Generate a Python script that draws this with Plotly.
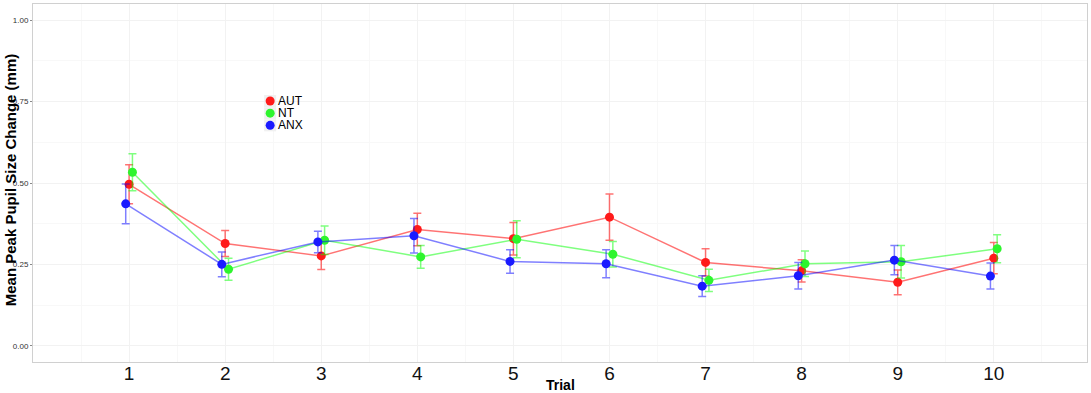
import plotly.graph_objects as go

trials = [1, 2, 3, 4, 5, 6, 7, 8, 9, 10]
groups = ["AUT", "NT", "ANX"]

aut_mean = [0.496, 0.314, 0.276, 0.357, 0.329, 0.395, 0.256, 0.230, 0.195, 0.269]
aut_se = [0.060, 0.040, 0.042, 0.050, 0.050, 0.071, 0.042, 0.034, 0.038, 0.048]
nt_mean = [0.533, 0.235, 0.324, 0.273, 0.327, 0.281, 0.201, 0.252, 0.258, 0.298]
nt_se = [0.057, 0.034, 0.044, 0.035, 0.057, 0.039, 0.034, 0.039, 0.050, 0.043]
anx_mean = [0.436, 0.250, 0.319, 0.338, 0.259, 0.252, 0.183, 0.215, 0.263, 0.214]
anx_se = [0.061, 0.038, 0.033, 0.053, 0.036, 0.043, 0.032, 0.041, 0.045, 0.040]

offsets = {"AUT": 0.0, "NT": 0.035, "ANX": -0.035}
means = {"AUT": aut_mean, "NT": nt_mean, "ANX": anx_mean}
ses = {"AUT": aut_se, "NT": nt_se, "ANX": anx_se}
line_col = {"AUT": "rgba(255,0,0,0.55)", "NT": "rgba(0,255,0,0.5)", "ANX": "rgba(0,0,255,0.5)"}
mark_col = {"AUT": "#FF1A1A", "NT": "#2EF52E", "ANX": "#1A1AFF"}

fig = go.Figure()
for g in groups:
    xs = [t + offsets[g] for t in trials]
    fig.add_trace(go.Scatter(
        x=xs, y=means[g], name=g, mode="lines+markers", showlegend=False,
        line=dict(color=line_col[g], width=1.5),
        marker=dict(color=mark_col[g], size=9),
        error_y=dict(type="data", array=ses[g], visible=True,
                     color=line_col[g], thickness=1.5, width=4),
    ))

# manual compact legend (ggplot-style keys)
leg_x = 0.225
leg_y = [0.729, 0.695, 0.661]
shapes = []
annotations = []
for g, yy in zip(groups, leg_y):
    shapes.append(dict(type="rect", xref="paper", yref="paper",
                       xsizemode="pixel", ysizemode="pixel",
                       xanchor=leg_x, yanchor=yy, x0=-6, x1=6, y0=-6, y1=6,
                       fillcolor="#F0F0F0", line=dict(width=0), layer="above"))
    shapes.append(dict(type="circle", xref="paper", yref="paper",
                       xsizemode="pixel", ysizemode="pixel",
                       xanchor=leg_x, yanchor=yy, x0=-4.5, x1=4.5, y0=-4.5, y1=4.5,
                       fillcolor=mark_col[g], line=dict(width=0), layer="above"))
    annotations.append(dict(text=g, xref="paper", yref="paper", x=leg_x, y=yy,
                            xshift=6, xanchor="left", yanchor="middle", showarrow=False,
                            font=dict(size=12, color="#000")))

annotations.append(dict(text="<b>Trial</b>", xref="paper", yref="paper", x=0.5, y=-0.064,
                        xanchor="center", yanchor="middle", showarrow=False,
                        font=dict(size=14, color="#000")))
annotations.append(dict(text="<b>Mean Peak Pupil Size Change (mm)</b>", xref="paper", yref="paper",
                        x=-0.021, y=0.51, xanchor="center", yanchor="middle", textangle=-90,
                        showarrow=False, font=dict(size=15, color="#000")))

grid_col = "#F2F2F2"
fig.update_layout(
    width=1091, height=393,
    margin=dict(l=33, r=4, t=4, b=31, autoexpand=False),
    plot_bgcolor="white", paper_bgcolor="white",
    font=dict(family="Liberation Sans, Arial, sans-serif", color="#222"),
    showlegend=False,
    shapes=shapes, annotations=annotations,
)
fig.update_xaxes(
    range=[0, 10.97], tickvals=trials, ticktext=[str(t) for t in trials],
    tickfont=dict(size=19, color="#111"), automargin=False,
    ticklabelstandoff=-6,
    showgrid=True, gridcolor=grid_col, gridwidth=1,
    minor=dict(tickvals=[t + 0.5 for t in range(0, 11)], showgrid=True, gridcolor="#F8F8F8", ticks=""),
    showline=True, linecolor="#D0D0D0", linewidth=1, mirror=True,
    zeroline=False, ticks="", ticklen=0,
)
fig.update_yaxes(
    range=[-0.05, 1.05], tickvals=[0, 0.25, 0.5, 0.75, 1.0],
    ticktext=["0.00", "0.25", "0.50", "0.75", "1.00"],
    tickfont=dict(size=8, color="#333"), automargin=False,
    showgrid=True, gridcolor=grid_col, gridwidth=1,
    minor=dict(tickvals=[0.125, 0.375, 0.625, 0.875], showgrid=True, gridcolor="#F8F8F8", ticks=""),
    showline=True, linecolor="#D0D0D0", linewidth=1, mirror=True,
    zeroline=False, ticks="outside", ticklen=2, tickcolor="#888",
)

fig.write_html("out.html", config={"displayModeBar": False},
               post_script="document.body.style.margin='0px';document.body.style.overflow='hidden';")
